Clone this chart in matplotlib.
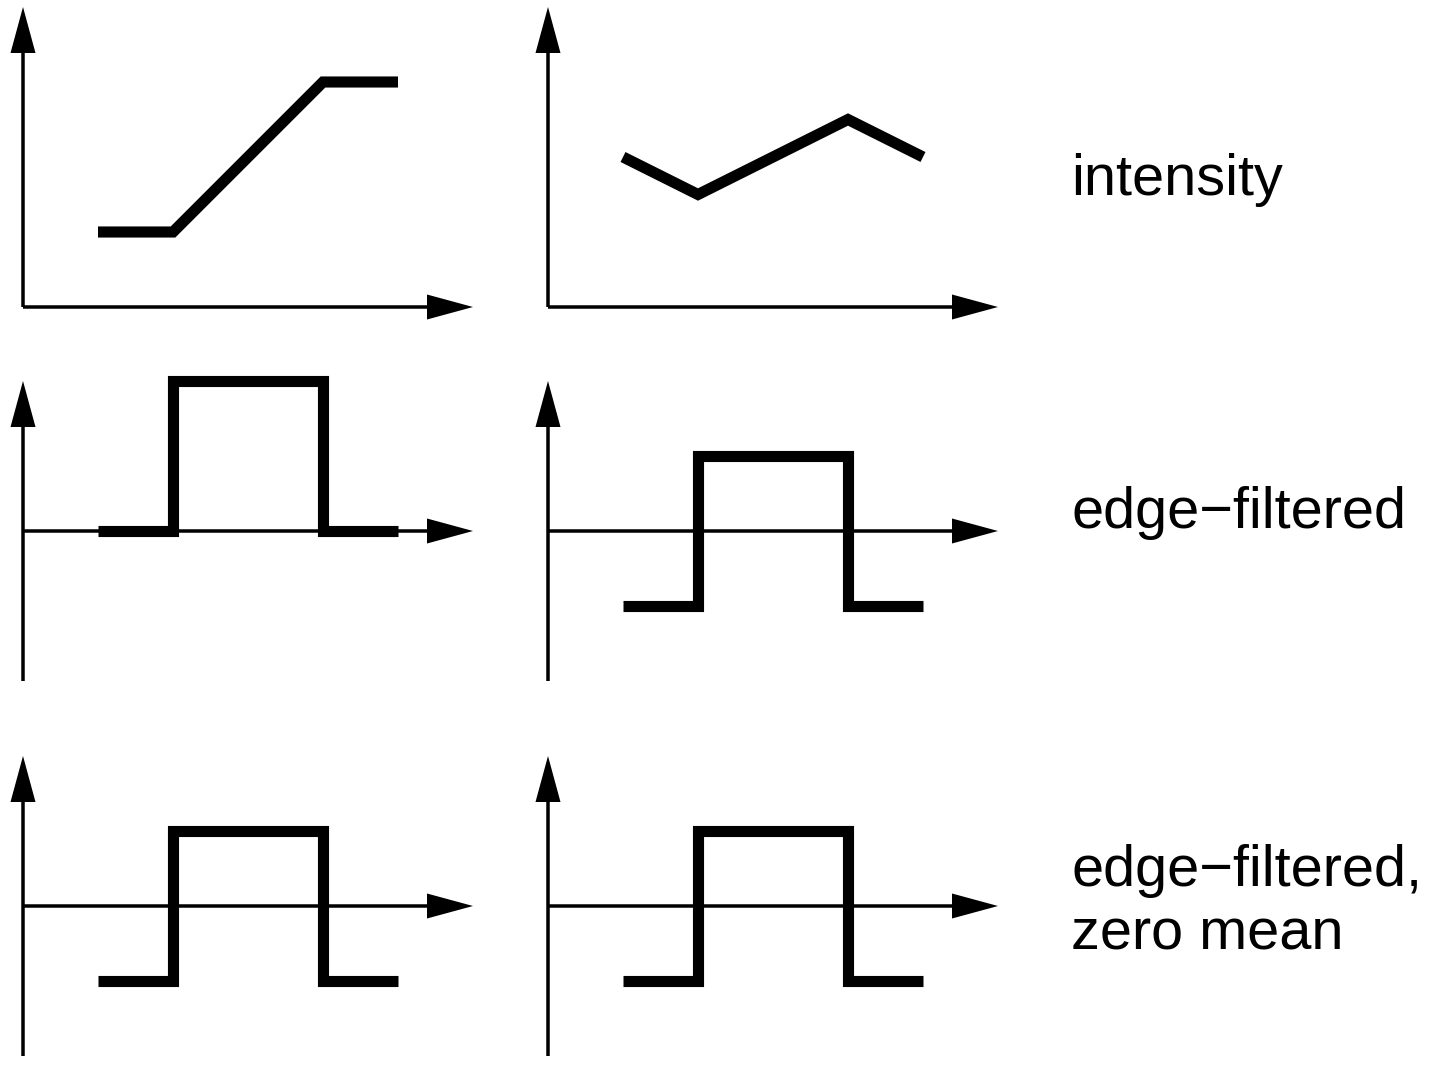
import matplotlib
matplotlib.use("Agg")
import matplotlib.pyplot as plt

# signal samples (x positions and levels, in axis units)
sig_x = [1, 2, 4, 5]
ramp_y = [1, 1, 3, 3]
wave_y = [2, 1.5, 2.5, 2]
edge_left = [0, 2, 0, 0]
edge_right = [-1, 1, -1, -1]
zero_left = [-1, 1, -1, -1]
zero_right = [-1, 1, -1, -1]
row_labels = ["intensity", "edge\u2212filtered", "edge\u2212filtered,\nzero mean"]

W, H = 1430, 1075
fig = plt.figure(figsize=(W / 100, H / 100), dpi=100)

# pixel layout: (y of x axis, lowest y value) per row, left of y axis per column
rows = [(307, 0), (531, -2), (906, -2)]
cols = [23, 548]
unit = 75.0

def make_ax(px, py, ymin):
    bottom = H - py + ymin * unit
    ax = fig.add_axes([px / W, bottom / H, 6 * unit / W, 4 * unit / H])
    ax.set_xlim(0, 6)
    ax.set_ylim(ymin, ymin + 4)
    ax.axis("off")
    aw = dict(width=3.5 / unit, head_width=25 / unit, head_length=46 / unit,
              length_includes_head=True, color="black", lw=0, clip_on=False)
    ax.arrow(0, 0, 6, 0, **aw)
    ax.arrow(0, ymin, 0, 4, **aw)
    return ax

def signal(ax, y, steps):
    ax.plot(sig_x, y, color="black", lw=8, clip_on=False,
            drawstyle="steps-post" if steps else "default",
            solid_capstyle="butt", solid_joinstyle="miter")

data = [(ramp_y, wave_y, False), (edge_left, edge_right, True),
        (zero_left, zero_right, True)]

for (py, ymin), (yl, yr, steps) in zip(rows, data):
    signal(make_ax(cols[0], py, ymin), yl, steps)
    signal(make_ax(cols[1], py, ymin), yr, steps)

# baseline of the last line of each label
baselines = [195, 528, 950]
for lab, b in zip(row_labels, baselines):
    fig.text(1071 / W, (H - b) / H, lab, fontsize=41.5, family="Liberation Sans",
             va="baseline", ha="left", linespacing=1.23)

fig.savefig("out.png", dpi=100)
